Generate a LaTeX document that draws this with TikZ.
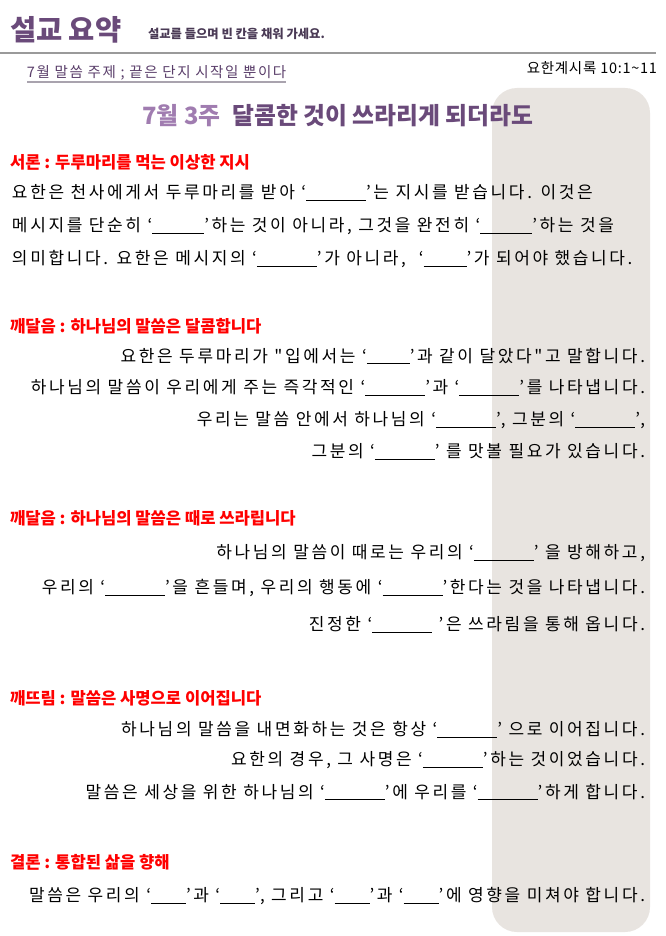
\documentclass[tikz,border=0pt]{standalone}
\usepackage{fontspec}
\setmainfont{Noto Sans CJK KR}
\newfontfamily\bodyfont[LetterSpace=15.5]{Noto Sans CJK KR}
\newfontfamily\themefont[LetterSpace=10.5]{Noto Sans CJK KR}
\newfontfamily\reffont[LetterSpace=5]{Noto Sans CJK KR}
\newcommand\blk[1]{\rule[-2.2pt]{#1pt}{0.9pt}}
\definecolor{ttlpurple}{HTML}{6A4A7A}
\definecolor{ltpurple}{HTML}{A07CB0}
\definecolor{subpurple}{HTML}{4A3A55}
\definecolor{themepurple}{HTML}{5A3E6A}
\definecolor{uline}{HTML}{A9A3AE}
\definecolor{rulegray}{HTML}{9A9A9A}
\definecolor{boxgray}{HTML}{E8E4E0}
\definecolor{secred}{HTML}{FF0000}
\tikzset{
  every node/.style={inner sep=0pt, outer sep=0pt},
  sechead/.style={anchor=west, text=secred, font=\fontsize{16.6}{19}\selectfont\bfseries},
  bodyL/.style={anchor=west, text=black, font=\bodyfont\fontsize{17}{20}\selectfont},
  bodyR/.style={anchor=east, text=black, font=\bodyfont\fontsize{17}{20}\selectfont},
}
\begin{document}
\begin{tikzpicture}[x=1pt,y=-1pt]
\useasboundingbox (0,0) rectangle (665,936);
\fill[white] (0,0) rectangle (665,936);
% gray side panel
\fill[boxgray, rounded corners=25pt] (492,88) rectangle (650,932);
% header
\node[anchor=west, text=ttlpurple, font=\fontsize{28.5}{33}\selectfont\bfseries] (title) at (10,30) {설교 요약};
\node[anchor=west, text=subpurple, font=\fontsize{12.3}{14}\selectfont\bfseries] (subtitle) at (148,34) {설교를 들으며 빈 칸을 채워 가세요.};
\draw[rulegray, line width=1.2pt] (0,53) coordinate (rl) -- (656,53) coordinate (rr);
\node[anchor=west, text=themepurple, font=\themefont\fontsize{14.5}{17}\selectfont] (theme) at (27,73) {7월 말씀 주제 ; 끝은 단지 시작일 뿐이다};
\draw[uline, line width=2pt] (theme.west |- 0,82) coordinate (ul) -- (theme.east |- ul) coordinate (ur);
\node[anchor=east, text=black, font=\reffont\fontsize{14.5}{17}\selectfont] (ref) at (657,68) {요한계시록 10:1\char"007E 11};
\node[anchor=center, font=\fontsize{23.8}{28}\selectfont\bfseries] (head) at (338,116) {\textcolor{ltpurple}{7월 3주}\hspace{0.5em}\textcolor{ttlpurple}{달콤한 것이 쓰라리게 되더라도}};
% section 1
\node[sechead] (s1) at (10,162) {서론 : 두루마리를 먹는 이상한 지시};
\node[bodyL] (s1a) at (12,193) {요한은 천사에게서 두루마리를 받아 ‘\blk{60}’는 지시를 받습니다. 이것은};
\node[bodyL] (s1b) at (12,226) {메시지를 단순히 ‘\blk{52}’하는 것이 아니라, 그것을 완전히 ‘\blk{52}’하는 것을};
\node[bodyL] (s1c) at (12,259) {의미합니다. 요한은 메시지의 ‘\blk{60}’가 아니라,\ \ ‘\blk{43}’가 되어야 했습니다.};
% section 2
\node[sechead] (s2) at (10,326) {깨달음 : 하나님의 말씀은 달콤합니다};
\node[bodyR] (s2a) at (645,356) {요한은 두루마리가 "입에서는 ‘\blk{43}’과 같이 달았다"고 말합니다.};
\node[bodyR] (s2b) at (645,388) {하나님의 말씀이 우리에게 주는 즉각적인 ‘\blk{60}’과 ‘\blk{60}’를 나타냅니다.};
\node[bodyR] (s2c) at (645,420) {우리는 말씀 안에서 하나님의 ‘\blk{60}’, 그분의 ‘\blk{60}’,};
\node[bodyR] (s2d) at (645,452) {그분의 ‘\blk{60}’ 를 맛볼 필요가 있습니다.};
% section 3
\node[sechead] (s3) at (10,518) {깨달음 : 하나님의 말씀은 때로 쓰라립니다};
\node[bodyR] (s3a) at (645,553) {하나님의 말씀이 때로는 우리의 ‘\blk{60}’ 을 방해하고,};
\node[bodyR] (s3b) at (645,588) {우리의 ‘\blk{60}’을 흔들며, 우리의 행동에 ‘\blk{60}’한다는 것을 나타냅니다.};
\node[bodyR] (s3c) at (645,625) {진정한 ‘\blk{60} ’은 쓰라림을 통해 옵니다.};
% section 4
\node[sechead] (s4) at (10,698) {깨뜨림 : 말씀은 사명으로 이어집니다};
\node[bodyR] (s4a) at (645,730) {하나님의 말씀을 내면화하는 것은 항상 ‘\blk{60}’ 으로 이어집니다.};
\node[bodyR] (s4b) at (645,760) {요한의 경우, 그 사명은 ‘\blk{60}’하는 것이었습니다.};
\node[bodyR] (s4c) at (645,792) {말씀은 세상을 위한 하나님의 ‘\blk{60}’에 우리를 ‘\blk{60}’하게 합니다.};
% section 5
\node[sechead] (s5) at (10,862) {결론 : 통합된 삶을 향해};
\node[bodyR] (s5a) at (645,896) {말씀은 우리의 ‘\blk{35}’과 ‘\blk{35}’, 그리고 ‘\blk{35}’과 ‘\blk{35}’에 영향을 미쳐야 합니다.};
\end{tikzpicture}
\end{document}
